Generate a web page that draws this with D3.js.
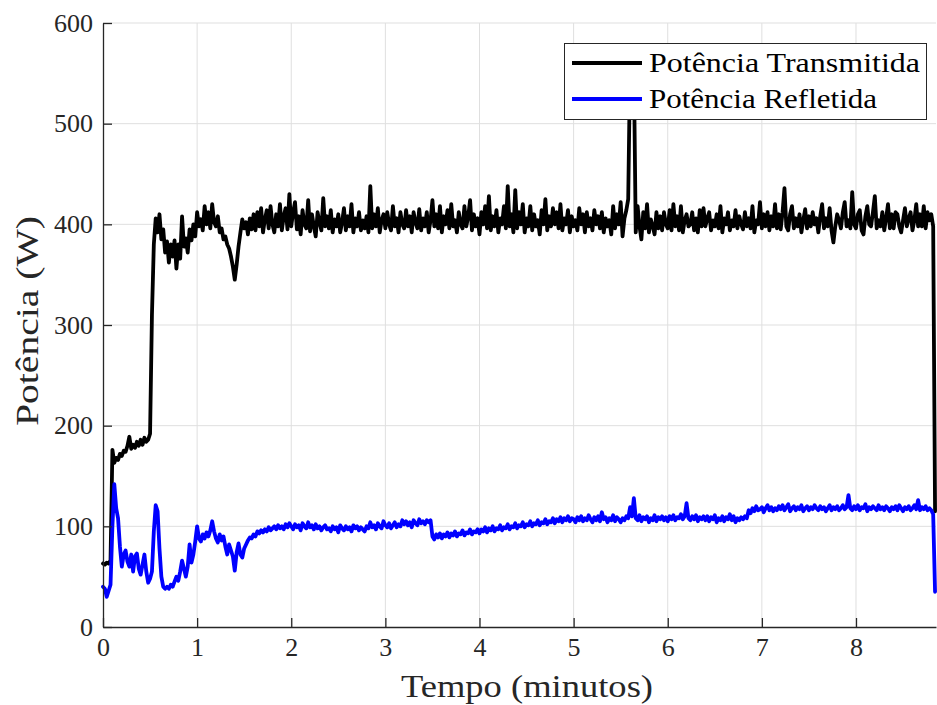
<!DOCTYPE html>
<html>
<head>
<meta charset="utf-8">
<script src="https://cdn.jsdelivr.net/npm/d3@7"></script>
<style>
  body { margin: 0; background: #fff; }
  svg { display: block; }
  svg text { font-family: "Liberation Serif", "Times New Roman", "DejaVu Serif", serif; }
</style>
</head>
<body>
<svg id="chart"></svg>
<script>
// samples every 0.02 min
const sampleStep = 0.02;

// Potência Transmitida (W), one row = 0.4 min
const transmitted = [
  63, 62, 64, 63, 66, 176, 163, 168, 166, 172, 170, 175, 174, 180, 189, 177, 181, 178, 184, 180,          // 0.00
  186, 181, 188, 184, 186, 192, 310, 380, 406, 392, 410, 385, 395, 372, 383, 362, 380, 368, 384, 356,     // 0.40
  380, 366, 408, 378, 386, 372, 395, 384, 400, 388, 412, 398, 405, 394, 418, 400, 412, 396, 420, 402,     // 0.80
  398, 408, 392, 396, 385, 388, 380, 376, 368, 358, 345, 360, 378, 392, 405, 396, 402, 390, 406, 395,     // 1.20
  410, 394, 412, 398, 416, 392, 405, 414, 396, 418, 400, 392, 410, 398, 420, 394, 408, 416, 395, 430,     // 1.60
  398, 412, 422, 395, 408, 390, 414, 400, 396, 424, 393, 410, 398, 388, 412, 402, 394, 426, 398, 408,     // 2.00
  396, 414, 392, 405, 398, 410, 392, 402, 416, 394, 408, 398, 420, 392, 406, 398, 412, 394, 404, 396,     // 2.40
  408, 392, 438, 396, 410, 398, 416, 392, 404, 410, 396, 412, 400, 394, 418, 398, 406, 392, 412, 400,     // 2.80
  396, 414, 398, 408, 392, 412, 402, 396, 415, 394, 406, 398, 412, 392, 404, 424, 398, 410, 396, 418,     // 3.20
  392, 408, 400, 414, 396, 420, 398, 404, 392, 412, 400, 396, 418, 398, 408, 424, 394, 410, 398, 406,     // 3.60
  390, 412, 400, 418, 396, 428, 394, 408, 398, 414, 392, 406, 400, 418, 396, 438, 398, 410, 392, 434,     // 4.00
  396, 412, 400, 420, 392, 406, 398, 418, 394, 410, 398, 404, 390, 414, 400, 425, 394, 408, 398, 416,     // 4.40
  400, 412, 396, 420, 394, 406, 400, 414, 392, 408, 398, 404, 394, 416, 400, 410, 392, 412, 398, 406,     // 4.80
  394, 414, 400, 408, 396, 412, 392, 406, 398, 404, 390, 418, 396, 410, 400, 422, 388, 406, 414, 425,     // 5.20
  560, 540, 558, 392, 418, 398, 385, 412, 396, 420, 392, 405, 398, 390, 412, 396, 408, 394, 412, 400,     // 5.60
  396, 414, 394, 420, 398, 408, 394, 418, 392, 404, 410, 398, 400, 412, 394, 406, 392, 414, 398, 416,     // 6.00
  398, 406, 412, 394, 404, 398, 410, 396, 418, 392, 406, 400, 412, 394, 404, 398, 414, 396, 408, 400,     // 6.40
  395, 412, 398, 406, 396, 418, 392, 404, 400, 422, 396, 410, 398, 412, 394, 408, 398, 420, 396, 410,     // 6.80
  395, 412, 436, 398, 394, 410, 418, 396, 406, 398, 410, 392, 404, 415, 396, 408, 398, 412, 400, 406,     // 7.20
  392, 408, 420, 396, 406, 398, 416, 394, 382, 398, 410, 404, 396, 412, 422, 398, 404, 396, 432, 400,     // 7.60
  396, 410, 414, 394, 390, 408, 418, 400, 398, 412, 428, 396, 404, 398, 412, 394, 406, 420, 396, 410,     // 8.00
  396, 412, 410, 398, 392, 404, 416, 398, 406, 412, 394, 404, 420, 398, 410, 398, 418, 396, 412, 404,     // 8.40
  410, 398, 115                                                                                          // 8.80
];

// Potência Refletida (W)
const reflected = [
  40, 38, 30, 36, 42, 100, 142, 118, 108, 80, 60, 72, 76, 65, 60, 72, 55, 70, 73, 58,                     // 0.00
  52, 62, 72, 55, 44, 48, 55, 95, 121, 115, 78, 50, 40, 38, 40, 38, 42, 40, 45, 50,                       // 0.40
  46, 55, 66, 58, 50, 60, 82, 64, 72, 85, 100, 88, 85, 92, 88, 94, 90, 96, 105, 95,                       // 0.80
  88, 84, 92, 86, 90, 80, 72, 82, 76, 70, 56, 74, 83, 72, 69, 78, 82, 86, 89, 88,                         // 1.20
  92, 90, 95, 93, 96, 94, 97, 95, 99, 96, 98, 100, 97, 101, 98, 100, 97, 102, 99, 103,                    // 1.60
  100, 97, 102, 99, 101, 96, 103, 100, 98, 104, 99, 101, 97, 102, 98, 100, 96, 99, 101, 97,               // 2.00
  98, 95, 100, 97, 99, 94, 101, 98, 96, 100, 97, 99, 95, 101, 98, 100, 96, 99, 97, 95,                    // 2.40
  100, 98, 104, 99, 101, 97, 103, 100, 98, 105, 101, 99, 103, 98, 101, 104, 99, 102, 100, 106,            // 2.80
  102, 105, 101, 104, 99, 106, 103, 101, 107, 103, 105, 102, 106, 104, 106, 90, 87, 92, 89, 93,           // 3.20
  88, 92, 90, 94, 89, 93, 91, 95, 90, 93, 92, 96, 91, 94, 93, 97, 92, 95, 94, 97,                         // 3.60
  93, 97, 95, 99, 94, 98, 96, 100, 95, 98, 97, 101, 96, 99, 98, 102, 97, 100, 99, 103,                    // 4.00
  98, 101, 100, 104, 99, 102, 101, 105, 100, 103, 102, 106, 101, 104, 103, 107, 102, 105, 104, 108,       // 4.40
  103, 107, 105, 109, 104, 108, 106, 110, 105, 108, 107, 104, 109, 106, 110, 105, 108, 106, 111, 107,     // 4.80
  104, 109, 106, 110, 105, 114, 107, 109, 104, 108, 106, 111, 105, 109, 107, 104, 108, 106, 110, 108,     // 5.20
  119, 110, 128, 108, 106, 111, 105, 109, 107, 110, 104, 108, 106, 111, 105, 109, 107, 110, 106, 109,     // 5.60
  105, 110, 107, 111, 106, 109, 108, 112, 107, 110, 123, 108, 106, 110, 107, 111, 105, 109, 107, 110,     // 6.00
  106, 110, 105, 109, 107, 111, 104, 108, 106, 110, 105, 109, 107, 112, 106, 110, 104, 108, 106, 109,     // 6.40
  107, 110, 108, 116, 113, 118, 115, 120, 116, 117, 119, 114, 118, 121, 116, 119, 115, 118, 116, 120,     // 6.80
  117, 121, 116, 119, 122, 115, 118, 120, 116, 119, 117, 121, 115, 118, 120, 116, 119, 117, 121, 118,     // 7.20
  116, 120, 117, 119, 115, 118, 121, 116, 119, 117, 120, 116, 118, 121, 117, 119, 131, 118, 116, 120,     // 7.60
  117, 121, 116, 119, 118, 122, 115, 119, 117, 120, 118, 116, 121, 117, 119, 116, 120, 118, 115, 119,     // 8.00
  117, 120, 116, 121, 118, 115, 119, 117, 120, 116, 118, 121, 117, 126, 116, 119, 117, 120, 116, 118,     // 8.40
  116, 112, 35                                                                                           // 8.80
];

const xTicks = [0, 1, 2, 3, 4, 5, 6, 7, 8];
const yTicks = [0, 100, 200, 300, 400, 500, 600];
const seriesNames = ["Potência Transmitida", "Potência Refletida"];
const xLabel = "Tempo (minutos)";
const yLabel = "Potência (W)";

function drawChart() {
  const spec = {
    width: 937,
    height: 705,
    plot: { left: 103, right: 936, top: 23, bottom: 627 }
  };
  const ink = "#262626";
  const serif = "'Liberation Serif', 'Times New Roman', 'DejaVu Serif', serif";
  const lineWidth = 3.8;

  const svg = d3.select("#chart")
    .attr("width", spec.width)
    .attr("height", spec.height);

  const x = d3.scaleLinear().domain([0, 8.85]).range([spec.plot.left, spec.plot.right]);
  const y = d3.scaleLinear().domain([0, 600]).range([spec.plot.bottom, spec.plot.top]);

  // grid
  const grid = svg.append("g").attr("stroke", "#dfdfdf").attr("stroke-width", 1);
  grid.selectAll(".vgrid").data(xTicks.filter(d => d > 0)).join("line")
    .attr("x1", d => x(d)).attr("x2", d => x(d))
    .attr("y1", spec.plot.top).attr("y2", spec.plot.bottom);
  grid.selectAll(".hgrid").data(yTicks.filter(d => d > 0)).join("line")
    .attr("x1", spec.plot.left).attr("x2", spec.plot.right)
    .attr("y1", d => y(d)).attr("y2", d => y(d));

  // series
  const line = d3.line()
    .x((d, i) => x(i * sampleStep))
    .y(d => y(d));

  const series = [
    { values: transmitted, color: "#000000" },
    { values: reflected, color: "#0000ff" }
  ];
  series.forEach(s => {
    svg.append("path")
      .datum(s.values)
      .attr("d", line)
      .attr("fill", "none")
      .attr("stroke", s.color)
      .attr("stroke-width", lineWidth)
      .attr("stroke-linejoin", "round")
      .attr("stroke-linecap", "round");
  });

  // axes (ticks pointing inward, MATLAB style)
  const xAxis = svg.append("g")
    .attr("transform", `translate(0, ${spec.plot.bottom})`)
    .call(d3.axisBottom(x).tickValues(xTicks).tickFormat(d3.format("d"))
      .tickSizeInner(-9).tickSizeOuter(0).tickPadding(11));
  const yAxis = svg.append("g")
    .attr("transform", `translate(${spec.plot.left}, 0)`)
    .call(d3.axisLeft(y).tickValues(yTicks).tickFormat(d3.format("d"))
      .tickSizeInner(-9).tickSizeOuter(0).tickPadding(10));

  [xAxis, yAxis].forEach(ax => {
    ax.attr("font-family", serif).attr("font-size", 26);
    ax.select(".domain").attr("stroke", ink).attr("stroke-width", 1.3);
    ax.selectAll(".tick line").attr("stroke", ink).attr("stroke-width", 1.3);
    ax.selectAll(".tick text")
      .attr("fill", ink)
      .attr("font-family", serif)
      .style("font-family", serif)
      .style("font-size", "26px");
  });

  // axis labels
  svg.append("text")
    .attr("x", 527).attr("y", 697)
    .attr("text-anchor", "middle")
    .attr("fill", ink)
    .attr("font-family", serif)
    .attr("textLength", 252).attr("lengthAdjust", "spacingAndGlyphs")
    .style("font-size", "32px")
    .text(xLabel);

  svg.append("text")
    .attr("transform", "translate(38, 321) rotate(-90)")
    .attr("text-anchor", "middle")
    .attr("fill", ink)
    .attr("font-family", serif)
    .attr("textLength", 210).attr("lengthAdjust", "spacingAndGlyphs")
    .style("font-size", "32px")
    .text(yLabel);

  // legend
  const legend = svg.append("g");
  legend.append("rect")
    .attr("x", 564.5).attr("y", 43.5)
    .attr("width", 362).attr("height", 76)
    .attr("fill", "#fff")
    .attr("stroke", ink).attr("stroke-width", 1);

  const legendRows = [
    { name: seriesNames[0], color: "#000000", cy: 63, len: 271 },
    { name: seriesNames[1], color: "#0000ff", cy: 99, len: 228 }
  ];
  legendRows.forEach(r => {
    legend.append("line")
      .attr("x1", 572).attr("x2", 642)
      .attr("y1", r.cy).attr("y2", r.cy)
      .attr("stroke", r.color).attr("stroke-width", lineWidth);
    legend.append("text")
      .attr("x", 649).attr("y", r.cy + 9)
      .attr("fill", "#000")
      .attr("font-family", serif)
      .attr("textLength", r.len).attr("lengthAdjust", "spacingAndGlyphs")
      .style("font-size", "28px")
      .text(r.name);
  });
}

drawChart();
</script>
</body>
</html>
